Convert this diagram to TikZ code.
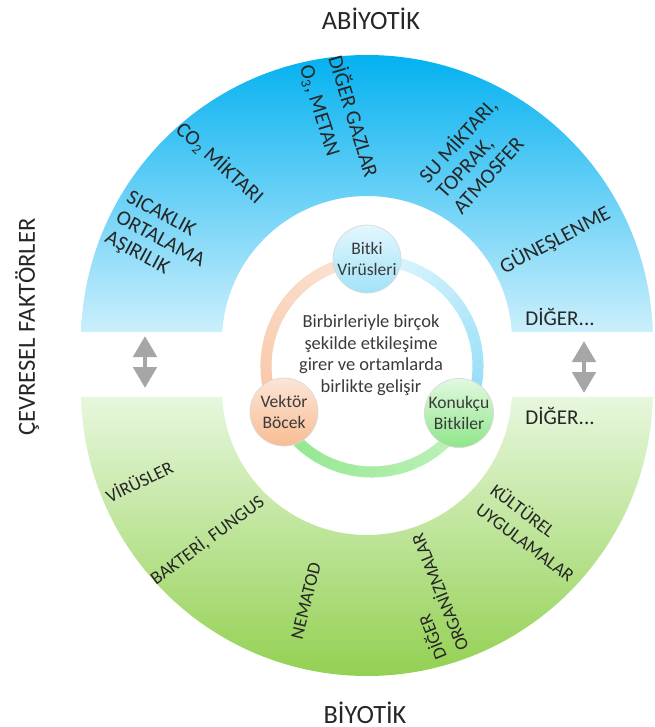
\documentclass[tikz,border=0pt]{standalone}
\usepackage{fontspec}
\setmainfont{Carlito}
\usetikzlibrary{arrows.meta,calc}

\definecolor{bandblue}{HTML}{00B0F0}
\definecolor{bandbluepale}{HTML}{D2F1FC}
\definecolor{bandgreen}{HTML}{92D050}
\definecolor{bandgreenpale}{HTML}{E9F8E1}
\definecolor{arrowgray}{HTML}{A6A6A6}
\definecolor{titlegray}{HTML}{262626}
\definecolor{textgray}{HTML}{3A3A3A}
\definecolor{peachlo}{HTML}{F7C4A3}
\definecolor{peachhi}{HTML}{FCE5D7}
\definecolor{skyhi}{HTML}{E3F7FD}
\definecolor{skylo}{HTML}{8ADBF7}
\definecolor{leafhi}{HTML}{C4F3C0}
\definecolor{leaflo}{HTML}{8EE68A}

% ring piece with a colour ramp: start angle, end angle, from colour, to colour
\newcommand{\ringseg}[4]{%
  \foreach \i in {1,...,24}{
    \pgfmathsetmacro\ta{#1+(#2-#1)*(\i-1)/24}
    \pgfmathsetmacro\tb{#1+(#2-#1)*\i/24}
    \pgfmathtruncatemacro\pc{100*(\i-0.5)/24}
    \draw[ringline, #4!\pc!#3] ($(R)+(\ta:106)$) arc[start angle=\ta, end angle=\tb, radius=106];
  }}

\tikzset{
  bandlabel/.style={font=\fontsize{12}{13}\selectfont, text=black!85, align=left, inner sep=0pt},
  biolabel/.style={bandlabel, font=\fontsize{10.5}{13.5}\selectfont},
  headline/.style={font=\fontsize{15}{18}\selectfont, text=titlegray, inner sep=0pt},
  agent/.style={shape=circle, draw=black!15, line width=0.4pt, minimum size=1.36cm, inner sep=0pt,
    align=center, font=\fontsize{10}{12}\selectfont, text=textgray},
  ringline/.style={line width=6.3pt, line cap=round},
  updown/.style={{Triangle[length=0.42cm,width=0.46cm]}-{Triangle[length=0.42cm,width=0.46cm]},
    line width=2.8pt, draw=arrowgray}
}

\begin{document}
\begin{tikzpicture}[x=0.02cm, y=0.02cm]
    \useasboundingbox (0,0) rectangle (654,-727);

    \coordinate (ust) at (367,-341);
    \coordinate (alt) at (367,-390);
    \coordinate (R) at (372,-366);

    % abiotic half ring
    \shade[top color=bandblue, bottom color=bandbluepale]
      (ust) ++(1.8:286) arc[start angle=1.8, end angle=178.2, radius=286]
      -- ($(ust)+(176.44:145)$) arc[start angle=176.44, end angle=3.56, radius=145] -- cycle;
    % biotic half ring
    \shade[top color=bandgreenpale, bottom color=bandgreen]
      (alt) ++(-1.4:286) arc[start angle=-1.4, end angle=-178.6, radius=286]
      -- ($(alt)+(-177.23:145)$) arc[start angle=-177.23, end angle=-2.77, radius=145] -- cycle;

    \node[headline] (abiyotik) at (371,-19) {ABİYOTİK};
    \node[headline] (biyotik) at (365,-713) {BİYOTİK};
    \node[headline, font=\fontsize{14}{17}\selectfont, rotate=90] (cevresel) at (27,-327) {ÇEVRESEL FAKTÖRLER};

    % abiotic factors
    \node[bandlabel, rotate=-28] (sicaklik) at (160,-240) {SICAKLIK\\ORTALAMA\\AŞIRILIK};
    \node[bandlabel, rotate=-42] (co2) at (220,-163) {CO\textsubscript{2} MİKTARI};
    \node[bandlabel, rotate=-73, font=\fontsize{12}{17}\selectfont] (gazlar) at (339,-121) {DİĞER GAZLAR\\O\textsubscript{3}, METAN};
    \node[bandlabel, rotate=48] (su) at (474,-155) {SU MİKTARI,\\TOPRAK,\\ATMOSFER};
    \node[bandlabel, rotate=27.6] (gunes) at (555,-240) {GÜNEŞLENME};
    \node[bandlabel] (digerust) at (560,-317) {DİĞER...};

    % biotic factors
    \node[bandlabel] (digeralt) at (560,-416) {DİĞER...};
    \node[biolabel, rotate=26] (virus) at (139,-481) {VİRÜSLER};
    \node[biolabel, rotate=36.5] (bakteri) at (207,-540) {BAKTERİ, FUNGUS};
    \node[biolabel, rotate=76] (nematod) at (306,-601) {NEMATOD};
    \node[biolabel, rotate=112] (organizma) at (428,-597) {DİĞER\\ORGANİZMALAR};
    \node[biolabel, rotate=-37] (kultur) at (533,-532) {KÜLTÜREL\\UYGULAMALAR};

    % up and down arrows between the halves
    \coordinate (sol1) at (145,-336);
    \coordinate (sol2) at (145,-388);
    \coordinate (sag1) at (584,-341);
    \coordinate (sag2) at (584,-393);
    \draw[updown] (sol1) -- (sol2);
    \draw[updown] (sag1) -- (sag2);

    % inner cycle
    \ringseg{207.6}{92.7}{peachlo}{peachhi}
    \ringseg{87.3}{-28.4}{skyhi}{skylo}
    \ringseg{-28.4}{-152.4}{leafhi}{leaflo}

    \node[agent, top color=skyhi, bottom color=skylo!80] (bitki) at (367,-259) {Bitki\\Virüsleri};
    \node[agent, top color=peachhi, bottom color=peachlo!90!orange] (vektor) at (284,-412) {Vektör\\Böcek};
    \node[agent, top color=leafhi!50!white, bottom color=leaflo] (konukcu) at (459,-413) {Konukçu\\Bitkiler};

    \node[font=\fontsize{10.5}{12.3}\selectfont, text=textgray, align=center] (orta) at (371,-355)
      {Birbirleriyle birçok\\şekilde etkileşime\\girer ve ortamlarda\\birlikte gelişir};
\end{tikzpicture}
\end{document}
